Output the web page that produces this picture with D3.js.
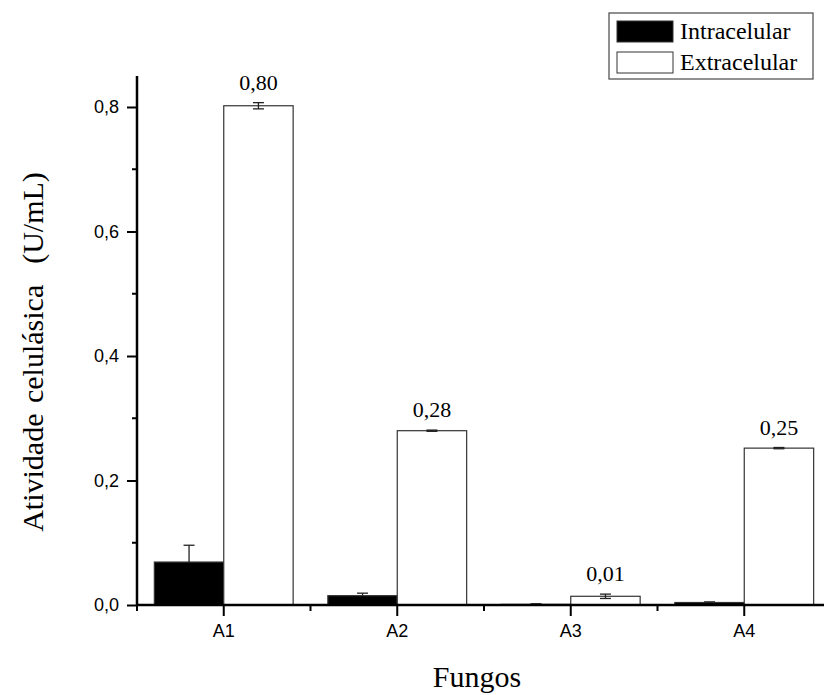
<!DOCTYPE html>
<html>
<head>
<meta charset="utf-8">
<script src="https://cdn.jsdelivr.net/npm/d3@7"></script>
<style>
  body { margin: 0; background: #fff; }
  svg { display: block; }
</style>
</head>
<body>
<svg width="824" height="695"></svg>
<script>
// dados
const categories = ["A1", "A2", "A3", "A4"];
const intraValues = [0.069, 0.015, 0.001, 0.004];
const intraErrors = [0.027, 0.004, 0.001, 0.001];
const extraValues = [0.802, 0.280, 0.014, 0.252];
const extraErrors = [0.005, 0.001, 0.0035, 0.001];
const valueLabels = ["0,80", "0,28", "0,01", "0,25"];
const yTicks = [0, 0.2, 0.4, 0.6, 0.8];
const yMinorTicks = [0.1, 0.3, 0.5, 0.7];
const seriesNames = ["Intracelular", "Extracelular"];

const svg = d3.select("svg");
const serif = "Liberation Serif, Times New Roman, serif";
const sans = "Liberation Sans, Arial, sans-serif";

const left = 137, bottom = 605, right = 831;

const x = d3.scaleBand()
    .domain(categories)
    .range([left, right])
    .paddingInner(0.2)
    .paddingOuter(0.1);

const xSub = d3.scaleBand()
    .domain(["intra", "extra"])
    .range([0, x.bandwidth()]);

const y = d3.scaleLinear()
    .domain([0, 0.85])
    .range([bottom, bottom - 0.85 * 622.5]);

const fmt = d => d3.format(".1f")(d).replace(".", ",");

// dados agrupados por barra
const bars = [];
categories.forEach((c, i) => {
    bars.push({cat: c, key: "intra", v: intraValues[i], e: intraErrors[i]});
    bars.push({cat: c, key: "extra", v: extraValues[i], e: extraErrors[i]});
});

// barras
svg.append("g").selectAll("rect")
    .data(bars)
    .join("rect")
    .attr("x", d => x(d.cat) + xSub(d.key))
    .attr("y", d => y(d.v))
    .attr("width", xSub.bandwidth())
    .attr("height", d => bottom - y(d.v))
    .attr("fill", d => d.key == "intra" ? "#000" : "#fff")
    .attr("stroke", "#333")
    .attr("stroke-width", 1.2);

// barras de erro
const err = svg.append("g").attr("stroke", "#222").attr("stroke-width", 1.3);
bars.forEach(d => {
    const cx = x(d.cat) + xSub(d.key) + xSub.bandwidth() / 2;
    const top = d.key == "intra" ? y(d.v) : y(d.v - d.e);
    err.append("line").attr("x1", cx).attr("x2", cx)
        .attr("y1", top).attr("y2", y(d.v + d.e));
    err.append("line").attr("x1", cx - 5.5).attr("x2", cx + 5.5)
        .attr("y1", y(d.v + d.e)).attr("y2", y(d.v + d.e));
    if (d.key == "extra") {
        err.append("line").attr("x1", cx - 5.5).attr("x2", cx + 5.5)
            .attr("y1", y(d.v - d.e)).attr("y2", y(d.v - d.e));
    }
});

// rótulos de valor
svg.append("g").selectAll("text")
    .data(categories)
    .join("text")
    .attr("x", c => x(c) + xSub("extra") + xSub.bandwidth() / 2)
    .attr("y", (c, i) => y(extraValues[i] + extraErrors[i]) - 13)
    .attr("text-anchor", "middle")
    .attr("font-family", serif)
    .attr("font-size", 22)
    .text((c, i) => valueLabels[i]);

// eixo y
const yAxis = svg.append("g")
    .attr("transform", `translate(${left},0)`)
    .call(d3.axisLeft(y).tickValues(yTicks).tickFormat(fmt).tickSize(10).tickPadding(8));
yAxis.select(".domain").remove();
yAxis.selectAll(".tick line").attr("stroke-width", 2);
yAxis.selectAll("text").attr("font-family", sans).attr("font-size", 18).attr("fill", "#000");
yAxis.selectAll(".minor").data(yMinorTicks).join("line")
    .attr("class", "minor")
    .attr("x1", -5).attr("x2", 0)
    .attr("y1", d => y(d)).attr("y2", d => y(d))
    .attr("stroke", "#000").attr("stroke-width", 2);
svg.append("line")
    .attr("x1", left).attr("x2", left)
    .attr("y1", y.range()[1]).attr("y2", bottom + 1)
    .attr("stroke", "#000").attr("stroke-width", 2.5);

// eixo x
const xAxis = svg.append("g")
    .attr("transform", `translate(0,${bottom})`)
    .call(d3.axisBottom(x).tickSize(11).tickPadding(8));
xAxis.select(".domain").remove();
xAxis.selectAll(".tick line").attr("stroke-width", 2);
xAxis.selectAll("text").attr("font-family", sans).attr("font-size", 18).attr("fill", "#000");
const step = x.step();
xAxis.selectAll(".minor").data(categories).join("line")
    .attr("class", "minor")
    .attr("x1", c => x(c) - step * 0.1).attr("x2", c => x(c) - step * 0.1)
    .attr("y1", 0).attr("y2", 6)
    .attr("stroke", "#000").attr("stroke-width", 2);
svg.append("line")
    .attr("x1", left - 1).attr("x2", right)
    .attr("y1", bottom).attr("y2", bottom)
    .attr("stroke", "#000").attr("stroke-width", 2.5);

// títulos dos eixos
svg.append("text")
    .attr("transform", `translate(43,352) rotate(-90)`)
    .attr("text-anchor", "middle")
    .attr("font-family", serif)
    .attr("font-size", 30)
    .attr("word-spacing", 3)
    .style("white-space", "pre")
    .text("Atividade celulásica  (U/mL)");

svg.append("text")
    .attr("x", 477)
    .attr("y", 687)
    .attr("text-anchor", "middle")
    .attr("font-family", serif)
    .attr("font-size", 30)
    .text("Fungos");

// legenda
const legend = svg.append("g").attr("transform", "translate(609,13)");
legend.append("rect")
    .attr("width", 204).attr("height", 66)
    .attr("fill", "#fff").attr("stroke", "#555").attr("stroke-width", 1.3);
seriesNames.forEach((s, i) => {
    legend.append("rect")
        .attr("x", 8).attr("y", 8 + i * 31)
        .attr("width", 56).attr("height", 21)
        .attr("fill", i == 0 ? "#000" : "#fff")
        .attr("stroke", "#333").attr("stroke-width", 1);
    legend.append("text")
        .attr("x", 71).attr("y", 26 + i * 31)
        .attr("font-family", serif)
        .attr("font-size", 24)
        .text(s);
});
</script>
</body>
</html>
